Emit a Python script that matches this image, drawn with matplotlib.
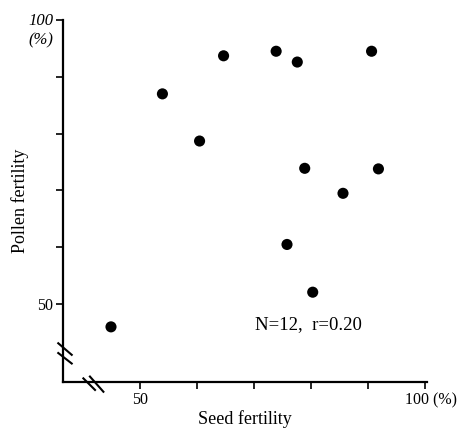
import matplotlib
matplotlib.use('Agg')
import matplotlib.pyplot as plt

plt.rcParams['font.family'] = ['Liberation Serif', 'DejaVu Serif']

# seed fertility (%) vs pollen fertility (%)
seed = [45.0, 54.0, 60.5, 64.7, 73.9, 77.6, 78.9, 75.8, 80.3, 85.6, 90.6, 91.8]
pollen = [46.0, 87.0, 78.7, 93.7, 94.5, 92.6, 73.9, 60.5, 52.1, 69.5, 94.5, 73.8]
x_ticks = [50, 60, 70, 80, 90, 100]
y_ticks = [50, 60, 70, 80, 90, 100]
note = 'N=12,  r=0.20'

fig = plt.figure(figsize=(4.68, 4.29), dpi=100)
ax = fig.add_axes([0.1346, 0.1096, 0.7778, 0.8438])

ax.scatter(seed, pollen, s=64, color='black', edgecolors='none', zorder=3)

ax.set_xlim(36.6, 100.3)
ax.set_ylim(36.3, 100)
for s in ['top', 'right']:
    ax.spines[s].set_visible(False)
for s in ['left', 'bottom']:
    ax.spines[s].set_linewidth(1.6)

ax.set_xticks(x_ticks)
ax.set_xticklabels(['50', '', '', '', '', ''])
ax.set_yticks(y_ticks)
ax.set_yticklabels(['50', '', '', '', '', ''])
ax.tick_params(direction='out', length=5, width=1.2, labelsize=11.5, pad=2)

# labels at the 100 ends
ax.text(0.94, -0.052, '100 (%)', transform=ax.transAxes, ha='left', va='center',
        fontsize=11.5)
ax.text(-0.027, 0.997, '100', transform=ax.transAxes, ha='right', va='center',
        fontsize=12, fontstyle='italic')
ax.text(-0.027, 0.945, '(%)', transform=ax.transAxes, ha='right', va='center',
        fontsize=12, fontstyle='italic')

ax.set_xlabel('Seed fertility', fontsize=13, labelpad=2)
ax.set_ylabel('Pollen fertility', fontsize=13, labelpad=6)

ax.text(79.6, 46.4, note, ha='center', va='center', fontsize=13.5)

# axis break marks (axes fraction)
y_break = [((-0.013, 0.024), (0.107, 0.075)), ((-0.013, 0.024), (0.080, 0.051))]
x_break = [((0.056, 0.088), (0.010, -0.022)), ((0.074, 0.111), (0.015, -0.027))]
for xs, ys in y_break + x_break:
    ax.plot(xs, ys, color='black', lw=1.5, transform=ax.transAxes, clip_on=False)

fig.savefig('out.png', dpi=100)
